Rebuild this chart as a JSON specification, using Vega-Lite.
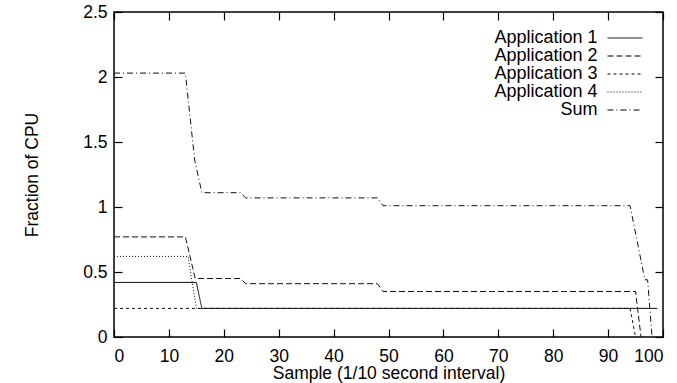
{
  "$schema": "https://vega.github.io/schema/vega-lite/v6.json",
  "width": 549,
  "height": 325,
  "autosize": {"type": "none"},
  "padding": {"left": 114, "top": 12, "right": 14, "bottom": 46},
  "background": "white",
  "config": {
    "font": "Liberation Sans",
    "view": {"stroke": "black", "strokeWidth": 1.5},
    "axis": {
      "domain": false,
      "grid": false,
      "tickColor": "black",
      "tickSize": -8,
      "tickWidth": 1.2,
      "labelColor": "black",
      "labelFont": "Liberation Sans",
      "labelFontSize": 17.5,
      "titleColor": "black",
      "titleFont": "Liberation Sans",
      "titleFontSize": 17.5,
      "titleFontWeight": "normal"
    },
    "legend": {
      "labelColor": "black",
      "labelFont": "Liberation Sans",
      "labelFontSize": 18,
      "symbolStrokeColor": "black",
      "symbolFillColor": "transparent",
      "symbolOpacity": 1
    }
  },
  "data": {
    "values": [
      {"series": "Application 1", "sample": 0, "cpu": 0.42},
      {"series": "Application 1", "sample": 15, "cpu": 0.42},
      {"series": "Application 1", "sample": 16, "cpu": 0.22},
      {"series": "Application 1", "sample": 99, "cpu": 0.22},

      {"series": "Application 2", "sample": 0, "cpu": 0.77},
      {"series": "Application 2", "sample": 13, "cpu": 0.77},
      {"series": "Application 2", "sample": 14.8, "cpu": 0.45},
      {"series": "Application 2", "sample": 23, "cpu": 0.45},
      {"series": "Application 2", "sample": 24, "cpu": 0.41},
      {"series": "Application 2", "sample": 48, "cpu": 0.41},
      {"series": "Application 2", "sample": 49, "cpu": 0.35},
      {"series": "Application 2", "sample": 95, "cpu": 0.35},
      {"series": "Application 2", "sample": 96, "cpu": 0},

      {"series": "Application 3", "sample": 0, "cpu": 0.22},
      {"series": "Application 3", "sample": 94, "cpu": 0.22},
      {"series": "Application 3", "sample": 95, "cpu": 0},

      {"series": "Application 4", "sample": 0, "cpu": 0.62},
      {"series": "Application 4", "sample": 13.5, "cpu": 0.62},
      {"series": "Application 4", "sample": 15, "cpu": 0.22},
      {"series": "Application 4", "sample": 99, "cpu": 0.22},

      {"series": "Sum", "sample": 0, "cpu": 2.03},
      {"series": "Sum", "sample": 13, "cpu": 2.03},
      {"series": "Sum", "sample": 14.7, "cpu": 1.36},
      {"series": "Sum", "sample": 16, "cpu": 1.11},
      {"series": "Sum", "sample": 23, "cpu": 1.11},
      {"series": "Sum", "sample": 24, "cpu": 1.07},
      {"series": "Sum", "sample": 48, "cpu": 1.07},
      {"series": "Sum", "sample": 49, "cpu": 1.01},
      {"series": "Sum", "sample": 94, "cpu": 1.01},
      {"series": "Sum", "sample": 96.7, "cpu": 0.44},
      {"series": "Sum", "sample": 97.2, "cpu": 0.44},
      {"series": "Sum", "sample": 98, "cpu": 0}
    ]
  },
  "resolve": {"axis": {"x": "independent", "y": "independent"}},
  "layer": [
    {
      "mark": {"type": "line", "color": "#111", "strokeWidth": 1},
      "encoding": {
        "x": {
          "field": "sample",
          "type": "quantitative",
          "scale": {"domain": [0, 100], "nice": false},
          "axis": {
            "orient": "bottom",
            "values": [0, 10, 20, 30, 40, 50, 60, 70, 80, 90, 100],
            "labelPadding": 18,
            "title": "Sample (1/10 second interval)",
            "titlePadding": 0
          }
        },
        "y": {
          "field": "cpu",
          "type": "quantitative",
          "scale": {"domain": [0, 2.5], "nice": false},
          "axis": {
            "orient": "left",
            "values": [0, 0.5, 1, 1.5, 2, 2.5],
            "labelExpr": "'' + datum.value",
            "labelPadding": 15,
            "title": "Fraction of CPU",
            "titlePadding": 41
          }
        },
        "strokeDash": {
          "field": "series",
          "type": "nominal",
          "scale": {
            "domain": ["Application 1", "Application 2", "Application 3", "Application 4", "Sum"],
            "range": [[1, 0], [6, 3], [3, 3], [1, 2], [6, 3, 1, 3]]
          },
          "legend": {
            "title": null,
            "orient": "none",
            "legendX": 502,
            "legendY": 17,
            "symbolType": "M-3.5,0H3.5",
            "symbolSize": 100,
            "symbolStrokeWidth": 1,
            "symbolStrokeColor": "black",
            "labelAlign": "right",
            "labelOffset": -36.5,
            "rowPadding": 0
          }
        }
      }
    },
    {
      "mark": {"type": "point", "opacity": 0},
      "encoding": {
        "x": {
          "field": "sample",
          "type": "quantitative",
          "axis": {
            "orient": "top",
            "values": [0, 10, 20, 30, 40, 50, 60, 70, 80, 90, 100],
            "labels": false,
            "title": null
          }
        },
        "y": {
          "field": "cpu",
          "type": "quantitative",
          "axis": {
            "orient": "right",
            "values": [0, 0.5, 1, 1.5, 2, 2.5],
            "labels": false,
            "title": null
          }
        }
      }
    }
  ]
}
